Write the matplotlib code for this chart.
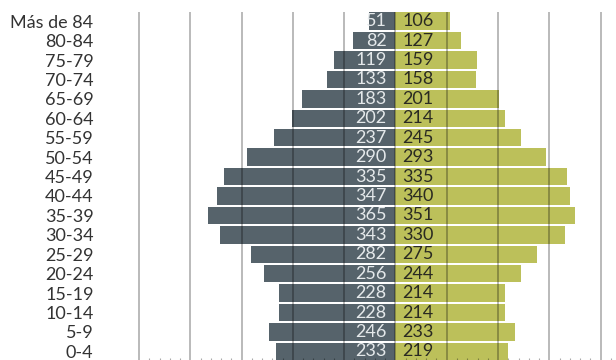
import matplotlib.pyplot as plt
from matplotlib.ticker import MultipleLocator

# grupos de edad, de abajo hacia arriba
grupos = ["0-4", "5-9", "10-14", "15-19", "20-24", "25-29", "30-34",
          "35-39", "40-44", "45-49", "50-54", "55-59", "60-64", "65-69",
          "70-74", "75-79", "80-84", "Más de 84"]
hombres = [233, 246, 228, 228, 256, 282, 343, 365, 347, 335, 290, 237,
           202, 183, 133, 119, 82, 51]
mujeres = [219, 233, 214, 214, 244, 275, 330, 351, 340, 335, 293, 245,
           214, 201, 158, 159, 127, 106]

COLOR_H = "#56636b"
COLOR_M = "#bcc05a"

plt.rcParams["font.family"] = ["Lato", "DejaVu Sans"]

fig = plt.figure(figsize=(6.16, 3.6), dpi=100)
ax = fig.add_axes([0.224, -0.0056, 0.776, 0.9709])

y = list(range(len(grupos)))
ax.barh(y, [-v for v in hombres], height=0.9, color=COLOR_H, zorder=2)
ax.barh(y, mujeres, height=0.9, color=COLOR_M, zorder=2)

for i, (h, m) in enumerate(zip(hombres, mujeres)):
    ax.text(-17, i, str(h), ha="right", va="center", fontsize=13,
            color="#e4e8ea", zorder=4)
    ax.text(14, i, str(m), ha="left", va="center", fontsize=13,
            color="#2a2a22", zorder=4)

ax.set_xlim(-502, 430)
ax.set_ylim(-0.55, 17.45)

ax.xaxis.set_major_locator(MultipleLocator(100))
ax.xaxis.set_minor_locator(MultipleLocator(20))
ax.grid(axis="x", which="major", color="black", alpha=0.32, linewidth=1.2,
        zorder=3)
ax.set_axisbelow(False)
ax.tick_params(axis="x", which="major", length=0, labelbottom=False)
ax.tick_params(axis="x", which="minor", direction="in", length=3,
               color="#00000055", width=0.8)

ax.set_yticks(y)
ax.set_yticklabels(grupos, fontsize=13, color="#333333")
ax.tick_params(axis="y", length=0, pad=32)

for s in ax.spines.values():
    s.set_visible(False)

fig.savefig("out.png", dpi=100)
